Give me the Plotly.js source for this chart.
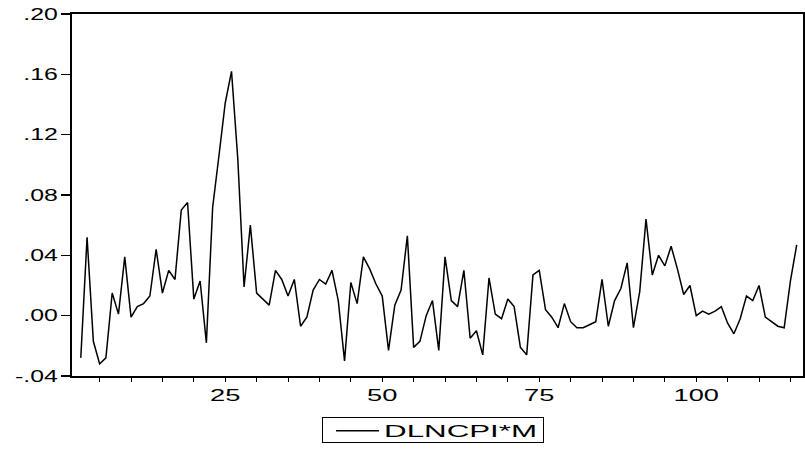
<!DOCTYPE html>
<html>
<head>
<meta charset="utf-8">
<script src="https://cdn.plot.ly/plotly-3.0.1.min.js"></script>
<style>html,body{margin:0;padding:0;background:#fff}</style>
</head>
<body>
<div id="chart" style="width:805px;height:461px"></div>
<script>
// observation numbers (2..116)
const obs = [2,3,4,5,6,7,8,9,10,11,12,13,14,15,16,17,18,19,20,21,22,23,24,25,26,27,28,29,30,31,
  32,33,34,35,36,37,38,39,40,41,42,43,44,45,46,47,48,49,50,51,52,53,54,55,56,57,58,59,60,61,
  62,63,64,65,66,67,68,69,70,71,72,73,74,75,76,77,78,79,80,81,82,83,84,85,86,87,88,89,90,91,
  92,93,94,95,96,97,98,99,100,101,102,103,104,105,106,107,108,109,110,111,112,113,114,115,116];

const dlncpiM = [-0.028,0.052,-0.017,-0.032,-0.028,0.015,0.001,0.039,-0.001,0.006,
  0.008,0.013,0.044,0.015,0.030,0.024,0.070,0.075,0.011,0.023,
  -0.018,0.072,0.106,0.141,0.162,0.104,0.019,0.060,0.015,0.011,
  0.007,0.030,0.024,0.013,0.024,-0.007,-0.001,0.017,0.024,0.021,
  0.030,0.010,-0.030,0.022,0.008,0.039,0.031,0.021,0.013,-0.023,
  0.007,0.017,0.053,-0.021,-0.017,0.000,0.010,-0.023,0.039,0.010,
  0.006,0.030,-0.015,-0.010,-0.026,0.025,0.001,-0.002,0.011,0.006,
  -0.021,-0.026,0.027,0.030,0.004,-0.001,-0.008,0.008,-0.004,-0.008,
  -0.008,-0.006,-0.004,0.024,-0.007,0.010,0.018,0.035,-0.008,0.016,
  0.064,0.027,0.040,0.033,0.046,0.031,0.014,0.020,0.000,0.003,
  0.001,0.003,0.006,-0.005,-0.012,-0.002,0.013,0.010,0.020,-0.001,
  -0.004,-0.007,-0.008,0.023,0.047];

const seriesName = 'DLNCPI*M';

const xTickVals = [5,10,15,20,25,30,35,40,45,50,55,60,65,70,75,80,85,90,95,100,105,110,115];
const xTickText = ['','','','','25','','','','','50','','','','','75','','','','','100','','',''];
const yTickVals = [-0.04,0.00,0.04,0.08,0.12,0.16,0.20];
const yTickText = ['-.04','.00','.04','.08','.12','.16','.20'];

const FONT = 'Liberation Sans, Arial, Helvetica, sans-serif';

const trace = {
  x: obs, y: dlncpiM, type: 'scatter', mode: 'lines', name: seriesName,
  line: {color: '#000', width: 1.5}
};

const layout = {
  width: 805, height: 461,
  margin: {l: 72, r: 2, t: 14, b: 85},
  paper_bgcolor: '#fff', plot_bgcolor: '#fff',
  font: {family: FONT, size: 16, color: '#000'},
  showlegend: true,
  legend: {
    x: 0.353, xanchor: 'left', y: -0.113, yanchor: 'top',
    bordercolor: '#000', borderwidth: 1, bgcolor: '#fff',
    font: {family: FONT, size: 16, color: '#000'},
    itemwidth: 43
  },
  xaxis: {
    range: [0.6, 117], showgrid: false, zeroline: false,
    showline: true, linecolor: '#000', linewidth: 2, mirror: true,
    ticks: 'outside', ticklen: 4, tickwidth: 1, tickcolor: '#000',
    tickmode: 'array', tickvals: xTickVals, ticktext: xTickText,
    tickfont: {family: FONT, size: 16, color: '#000'}
  },
  yaxis: {
    range: [-0.04, 0.20], showgrid: false, zeroline: false,
    showline: true, linecolor: '#000', linewidth: 2, mirror: true,
    ticks: 'outside', ticklen: 9, tickwidth: 1.5, tickcolor: '#000',
    tickmode: 'array', tickvals: yTickVals, ticktext: yTickText,
    tickfont: {family: FONT, size: 16, color: '#000'}
  }
};

function stretch(sel, f) {
  document.querySelectorAll(sel).forEach(t => {
    const w = t.getComputedTextLength();
    if (w > 0) {
      t.setAttribute('textLength', (w * f).toFixed(1));
      t.setAttribute('lengthAdjust', 'spacingAndGlyphs');
    }
  });
}

Plotly.newPlot('chart', [trace], layout, {staticPlot: true, displayModeBar: false}).then(() => {
  stretch('.ytick text', 1.55);
  stretch('.xtick text', 1.7);
  const leg = document.querySelector('.legend');
  if (leg) {
    const sb = leg.querySelector('.scrollbox');
    if (sb) { sb.removeAttribute('clip-path'); sb.setAttribute('transform', 'translate(0,-4)'); }
    const t = leg.querySelector('.legendtext');
    if (t) { t.setAttribute('textLength', '153'); t.setAttribute('lengthAdjust', 'spacingAndGlyphs'); }
    const bg = leg.querySelector('.bg');
    if (bg) {
      bg.setAttribute('x', '-7.5');
      bg.setAttribute('width', '221');
      bg.setAttribute('height', '25');
    }
  }
});
</script>
</body>
</html>
